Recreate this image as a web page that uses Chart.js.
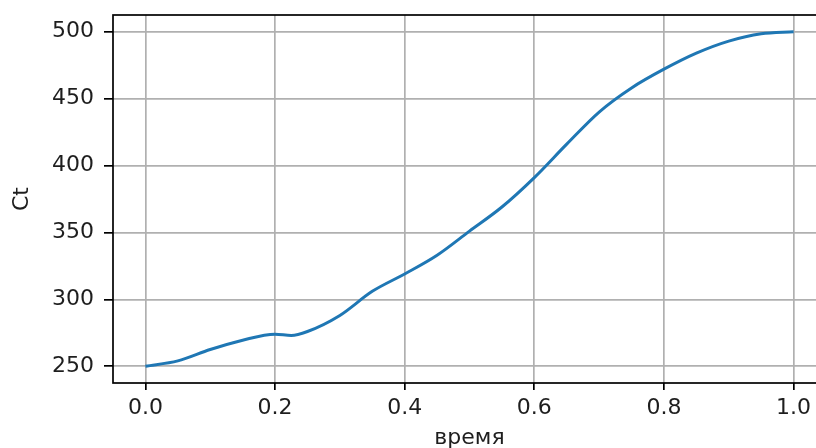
<!DOCTYPE html>
<html>
<head>
<meta charset="utf-8">
<script src="https://cdn.jsdelivr.net/npm/chart.js@4/dist/chart.umd.min.js"></script>
<style>
html,body{margin:0;padding:0;background:#fff;overflow:hidden;width:816px;height:448px;}
#wrap{position:absolute;left:0;top:0;width:826px;height:448px;}
</style>
</head>
<body>
<div id="wrap"><canvas id="c" width="826" height="448"></canvas></div>
<script>
const times = [0, 0.05, 0.1, 0.15, 0.2, 0.225, 0.25, 0.3, 0.35, 0.4, 0.45, 0.5, 0.55, 0.6, 0.65, 0.7, 0.75, 0.8, 0.85, 0.9, 0.95, 1.0];
const ct    = [250, 254, 262.5, 269.5, 274, 273, 276, 288, 306, 319, 333, 351, 369, 391, 416, 440, 458, 472, 484, 493, 498.5, 500];
const xTicks = [0, 0.2, 0.4, 0.6, 0.8, 1.0];
const yTicks = [250, 300, 350, 400, 450, 500];
const xLabel = 'время';
const yLabel = 'Ct';

const FONT = {family: 'DejaVu Sans', size: 22};
const frame = {
  id: 'frame',
  afterDraw(chart) {
    const a = chart.chartArea, ctx = chart.ctx;
    ctx.save();
    ctx.strokeStyle = '#000';
    ctx.lineWidth = 1.7;
    ctx.strokeRect(a.left, a.top, a.right - a.left, a.bottom - a.top);
    ctx.restore();
  }
};

new Chart(document.getElementById('c'), {
  type: 'line',
  data: {
    datasets: [{
      data: times.map((t, i) => ({x: t, y: ct[i]})),
      borderColor: '#1f77b4',
      borderWidth: 3,
      pointRadius: 0,
      fill: false,
      cubicInterpolationMode: 'monotone'
    }]
  },
  options: {
    responsive: false,
    animation: false,
    layout: {padding: {top: 15, right: 0, left: 0, bottom: 0}},
    plugins: {legend: {display: false}, tooltip: {enabled: false}},
    scales: {
      x: {
        type: 'linear',
        min: -0.05, max: 1.05,
        afterBuildTicks: s => { s.ticks = xTicks.map(v => ({value: v})); },
        afterFit: s => { s.height = 65; s.paddingLeft = 0; s.paddingRight = 0; },
        grid: {color: '#b0b0b0', lineWidth: 1.7, tickColor: '#000', tickLength: 7, drawTicks: true},
        border: {display: false},
        ticks: {color: '#1e1e1e', font: FONT, padding: 5, maxRotation: 0, callback: v => v.toFixed(1)},
        title: {display: true, text: xLabel, color: '#1e1e1e', font: FONT, padding: {top: 0, bottom: -3}}
      },
      y: {
        type: 'linear',
        min: 237.5, max: 512.5,
        afterBuildTicks: s => { s.ticks = yTicks.map(v => ({value: v})); },
        afterFit: s => { s.width = 113; s.paddingTop = 0; s.paddingBottom = 0; },
        grid: {color: '#b0b0b0', lineWidth: 1.7, tickColor: '#000', tickLength: 9, drawTicks: true},
        border: {display: false},
        ticks: {color: '#1e1e1e', font: FONT, padding: 10},
        title: {display: true, text: yLabel, color: '#1e1e1e', font: FONT, padding: {top: 9, bottom: 0}}
      }
    }
  },
  plugins: [frame]
});
</script>
</body>
</html>
